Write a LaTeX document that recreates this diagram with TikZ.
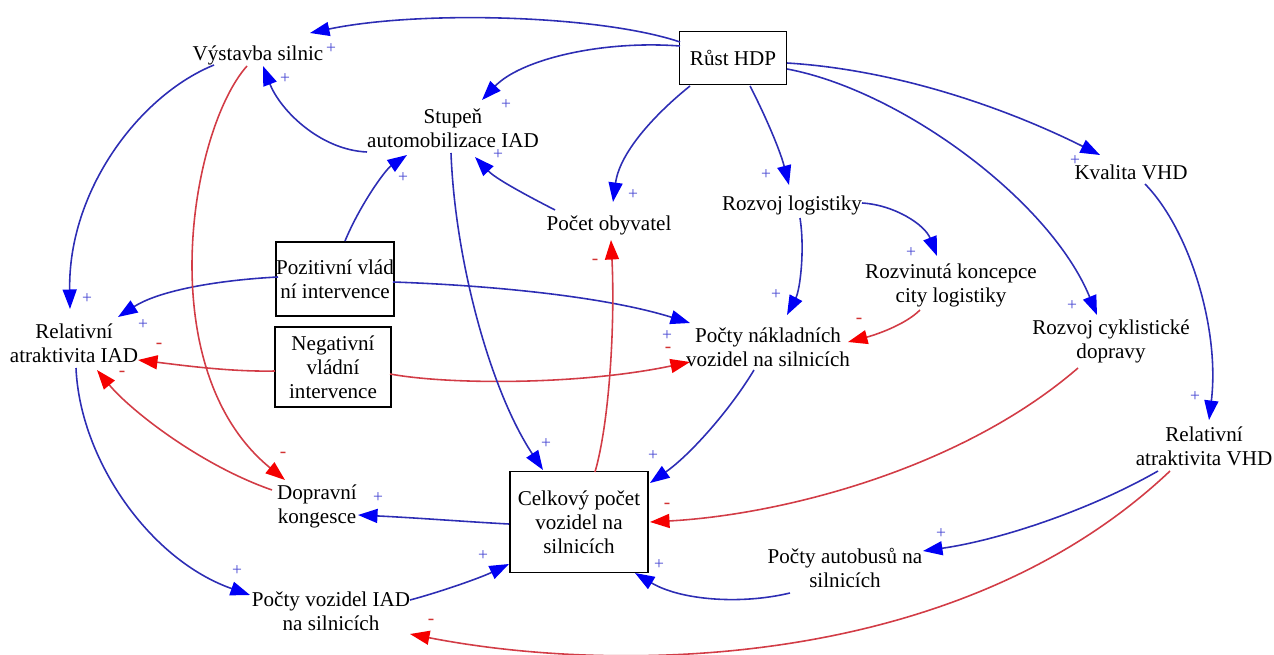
\documentclass[tikz,border=0pt]{standalone}
\usepackage{fontspec}
\setmainfont{Liberation Serif}
\usetikzlibrary{arrows.meta,calc}
\definecolor{lnblue}{RGB}{45,45,180}
\definecolor{lnred}{RGB}{210,60,70}
\definecolor{tipblue}{RGB}{0,0,245}
\definecolor{tipred}{RGB}{245,0,0}
\definecolor{sgnblue}{RGB}{70,70,210}
\definecolor{sgnred}{RGB}{210,50,50}
\begin{document}
\begin{tikzpicture}[x=0.02cm, y=-0.02cm,
  var/.style={align=center, inner sep=1pt, font=\fontsize{12}{13.6}\selectfont},
  stock/.style={var, draw, line width=1.1pt, inner sep=0pt},
  plusarr/.style={draw=lnblue, line width=0.9pt, -{Triangle[length=0.39cm,width=0.28cm,color=tipblue]}},
  minusarr/.style={draw=lnred, line width=0.9pt, -{Triangle[length=0.39cm,width=0.28cm,color=tipred]}},
  psign/.style={text=sgnblue, font=\fontsize{10}{10}\selectfont, inner sep=0pt},
  msign/.style={text=sgnred, font=\fontsize{11}{11}\selectfont, inner sep=0pt}
]
\useasboundingbox (0,0) rectangle (1274,655);

% variables
\node[var] (vys) at (258,55) {Výstavba silnic};
\node[stock, minimum width=107*0.02cm, minimum height=53*0.02cm] (hdp) at (733,58) {Růst HDP};
\node[var] (stu) at (453,128) {Stupeň\\automobilizace IAD};
\node[var] (kva) at (1131,172) {Kvalita VHD};
\node[var] (obv) at (609,225) {Počet obyvatel};
\node[var] (log) at (792,205) {Rozvoj logistiky};
\node[var] (kon) at (951,285) {Rozvinutá koncepce\\city logistiky};
\node[var] (riad) at (74,343) {Relativní\\atraktivita IAD};
\node[var] (nak) at (768,347) {Počty nákladních\\vozidel na silnicích};
\node[var] (cyk) at (1111,341) {Rozvoj cyklistické\\dopravy};
\node[var] (rvhd) at (1204,446) {Relativní\\atraktivita VHD};
\node[var] (kong) at (317,506) {Dopravní\\kongesce};
\node[stock, minimum width=138*0.02cm, minimum height=101*0.02cm] (cel) at (579,522) {Celkový počet\\vozidel na\\silnicích};
\node[var] (bus) at (845,568) {Počty autobusů na\\silnicích};
\node[var] (viad) at (331,611) {Počty vozidel IAD\\na silnicích};
\node[stock, minimum width=115*0.02cm, minimum height=74*0.02cm] (poz) at (335,279) {Pozitivní vlád\\ní intervence};
\node[stock, minimum width=116*0.02cm, minimum height=80*0.02cm] (negi) at (333,367) {Negativní\\vládní\\intervence};

% causal links
\draw[plusarr] ($(hdp)+(-53,-16)$) .. controls (600,15) and (420,10) .. ($(vys)+(52,-22)$);
\draw[plusarr] ($(hdp)+(-53,-12)$) .. controls (600,40) and (520,60) .. ($(stu)+(29,-28)$);
\draw[plusarr] ($(stu)+(-86,24)$) .. controls (320,150) and (280,110) .. ($(vys)+(5,11)$);
\draw[plusarr] ($(poz)+(10,-38)$) .. controls (360,205) and (385,170) .. ($(stu)+(-46,27)$);
\draw[plusarr] ($(obv)+(-54,-15)$) .. controls (520,192) and (495,178) .. ($(stu)+(22,29)$);
\draw[plusarr] ($(hdp)+(-43,28)$) .. controls (660,110) and (620,150) .. ($(obv)+(4,-23)$);
\draw[plusarr] ($(hdp)+(17,28)$) .. controls (765,115) and (780,150) .. ($(log)+(-3,-20)$);
\draw[plusarr] ($(hdp)+(54,5)$) .. controls (900,70) and (1010,110) .. ($(kva)+(-31,-17)$);
\draw[plusarr] ($(hdp)+(54,11)$) .. controls (900,90) and (1050,200) .. ($(cyk)+(-14,-26)$);
\draw[plusarr] ($(kva)+(14,12)$) .. controls (1190,230) and (1220,330) .. ($(rvhd)+(5,-26)$);
\draw[plusarr] ($(log)+(70,-2)$) .. controls (895,205) and (925,225) .. ($(kon)+(-14,-29)$);
\draw[plusarr] ($(log)+(8,13)$) .. controls (805,250) and (800,290) .. ($(nak)+(19,-32)$);
\draw[minusarr] ($(kon)+(-31,25)$) .. controls (905,325) and (875,335) .. ($(nak)+(80,-5)$);
\draw[plusarr] ($(poz)+(58,3)$) .. controls (480,285) and (600,295) .. ($(nak)+(-78,-24)$);
\draw[minusarr] ($(negi)+(57,7)$) .. controls (450,385) and (580,385) .. ($(nak)+(-78,15)$);
\draw[plusarr] ($(poz)+(-57,-2)$) .. controls (220,280) and (160,290) .. ($(riad)+(44,-26)$);
\draw[minusarr] ($(negi)+(-58,4)$) .. controls (230,372) and (180,365) .. ($(riad)+(64,17)$);
\draw[plusarr] ($(vys)+(-44,10)$) .. controls (140,95) and (68,190) .. ($(riad)+(-4,-34)$);
\draw[minusarr] ($(vys)+(-11,11)$) .. controls (190,130) and (150,370) .. ($(kong)+(-32,-26)$);
\draw[minusarr] ($(kong)+(-45,-16)$) .. controls (200,465) and (130,410) .. ($(riad)+(23,27)$);
\draw[plusarr] ($(riad)+(2,25)$) .. controls (80,460) and (150,560) .. ($(viad)+(-81,-16)$);
\draw[plusarr] ($(stu)+(-2,25)$) .. controls (455,260) and (490,390) .. ($(cel)+(-36,-52)$);
\draw[plusarr] ($(nak)+(-14,23)$) .. controls (730,410) and (690,455) .. ($(cel)+(71,-39)$);
\draw[minusarr] ($(cel)+(16,-50)$) .. controls (610,420) and (615,320) .. ($(obv)+(2,15)$);
\draw[plusarr] ($(cel)+(-70,2)$) .. controls (470,522) and (420,518) .. ($(kong)+(41,9)$);
\draw[plusarr] ($(viad)+(79,-11)$) .. controls (440,592) and (480,578) .. ($(cel)+(-70,42)$);
\draw[minusarr] ($(cyk)+(-33,27)$) .. controls (960,470) and (780,515) .. ($(cel)+(71,0)$);
\draw[plusarr] ($(bus)+(-55,25)$) .. controls (740,605) and (680,600) .. ($(cel)+(56,51)$);
\draw[plusarr] ($(rvhd)+(-46,25)$) .. controls (1090,510) and (1000,540) .. ($(bus)+(78,-17)$);
\draw[minusarr] ($(rvhd)+(-34,25)$) .. controls (960,670) and (620,675) .. ($(viad)+(79,23)$);

% polarity signs
\node[psign] (p1) at (331,49) {+};
\node[psign] (p2) at (506,105) {+};
\node[psign] (p3) at (285,79) {+};
\node[psign] (p4) at (403,178) {+};
\node[psign] (p5) at (498,155) {+};
\node[psign] (p6) at (633,195) {+};
\node[psign] (p7) at (766,175) {+};
\node[psign] (p8) at (1075,161) {+};
\node[psign] (p9) at (1072,306) {+};
\node[psign] (p10) at (1195,397) {+};
\node[psign] (p11) at (911,253) {+};
\node[psign] (p12) at (776,295) {+};
\node[msign] (m13) at (859,321) {-};
\node[psign] (p14) at (667,336) {+};
\node[msign] (m15) at (668,350) {-};
\node[psign] (p16) at (143,325) {+};
\node[msign] (m17) at (159,346) {-};
\node[psign] (p18) at (87,299) {+};
\node[msign] (m19) at (283,455) {-};
\node[msign] (m20) at (122,374) {-};
\node[psign] (p21) at (237,571) {+};
\node[psign] (p22) at (546,444) {+};
\node[psign] (p23) at (653,456) {+};
\node[msign] (m24) at (595,262) {-};
\node[psign] (p25) at (378,498) {+};
\node[psign] (p26) at (483,556) {+};
\node[msign] (m27) at (667,506) {-};
\node[psign] (p28) at (659,565) {+};
\node[psign] (p29) at (941,534) {+};
\node[msign] (m30) at (431,622) {-};
\end{tikzpicture}
\end{document}
